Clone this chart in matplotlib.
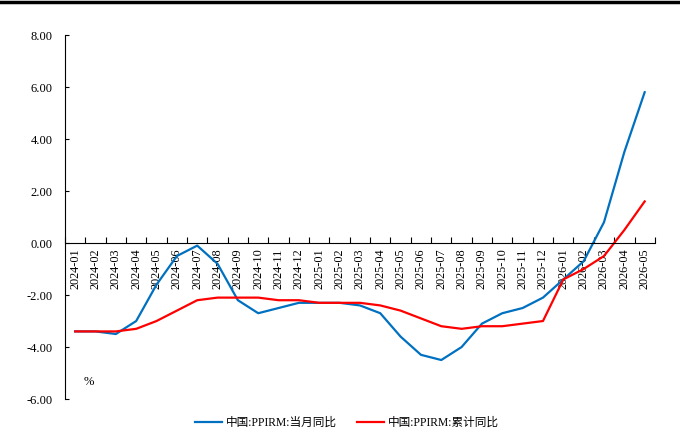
import matplotlib as mpl
mpl.use('Agg')
import matplotlib.pyplot as plt
from matplotlib.lines import Line2D

# 月份
months = ['2024-01', '2024-02', '2024-03', '2024-04', '2024-05', '2024-06',
          '2024-07', '2024-08', '2024-09', '2024-10', '2024-11', '2024-12',
          '2025-01', '2025-02', '2025-03', '2025-04', '2025-05', '2025-06',
          '2025-07', '2025-08', '2025-09', '2025-10', '2025-11', '2025-12',
          '2026-01', '2026-02', '2026-03', '2026-04', '2026-05']
# 当月同比
ppirm_mom = [-3.4, -3.4, -3.5, -3.0, -1.6, -0.5, -0.1, -0.8, -2.2, -2.7,
             -2.5, -2.3, -2.3, -2.3, -2.4, -2.7, -3.6, -4.3, -4.5, -4.0,
             -3.1, -2.7, -2.5, -2.1, -1.4, -0.7, 0.8, 3.5, 5.8]
# 累计同比
ppirm_cum = [-3.4, -3.4, -3.4, -3.3, -3.0, -2.6, -2.2, -2.1, -2.1, -2.1,
             -2.2, -2.2, -2.3, -2.3, -2.3, -2.4, -2.6, -2.9, -3.2, -3.3,
             -3.2, -3.2, -3.1, -3.0, -1.4, -1.0, -0.5, 0.5, 1.6]
yticks = [8, 6, 4, 2, 0, -2, -4, -6]

FONT = ['Liberation Serif', 'Noto Sans CJK SC', 'DejaVu Sans']
plt.rcParams['font.family'] = FONT

fig = plt.figure(figsize=(6.8, 4.34), dpi=100)
ax = fig.add_axes([0.0956, 0.0806, 0.8674, 0.8387])

x = list(range(len(months)))
ax.plot(x, ppirm_mom, color='#0070C0', lw=1.6, label='中国:PPIRM:当月同比')
ax.plot(x, ppirm_cum, color='#FF0000', lw=1.6, label='中国:PPIRM:累计同比')

ax.set_xlim(-0.5, len(months) - 0.5)
ax.set_ylim(-6, 8)
ax.set_yticks(yticks)
ax.set_yticklabels(['%.2f' % v for v in yticks], fontsize=9)
ax.tick_params(axis='y', direction='in', length=3, pad=9, width=0.8)

ax.spines['top'].set_visible(False)
ax.spines['right'].set_visible(False)
ax.spines['bottom'].set_position(('data', 0))
ax.spines['left'].set_linewidth(0.8)
ax.spines['bottom'].set_linewidth(0.8)

ax.set_xticks(x)
ax.set_xticklabels(months, rotation=90, fontsize=8.8)
ax.set_xticks([i - 0.5 for i in range(len(months) + 1)], minor=True)
ax.tick_params(axis='x', which='major', length=0, pad=4)
ax.tick_params(axis='x', which='minor', direction='in', length=4, width=0.8)

ax.text(0.4, -5.45, '%', fontsize=9)

ax.legend(loc='upper center', bbox_to_anchor=(0.478, -0.02), ncol=2,
          frameon=False, fontsize=8.4, handlelength=2.3, handletextpad=0.3,
          columnspacing=1.75)

fig.add_artist(Line2D([0, 1], [0.995, 0.995], color='black', lw=2.5,
                      transform=fig.transFigure))

plt.savefig('out.png', dpi=100)
